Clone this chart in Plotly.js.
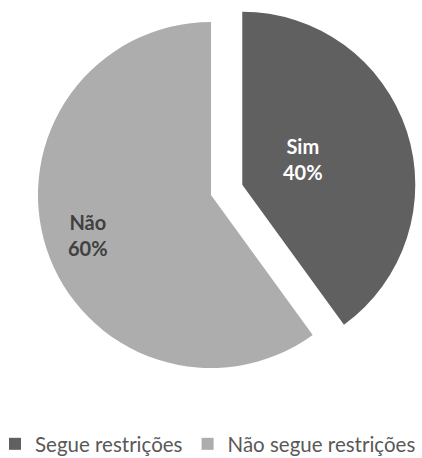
<!DOCTYPE html>
<html>
<head>
<meta charset="utf-8">
<script src="https://cdn.plot.ly/plotly-3.0.1.min.js"></script>
<style>
  html, body { margin: 0; padding: 0; background: #ffffff; overflow: hidden; }
  #chart { position: absolute; left: -5px; top: -20px; width: 440px; height: 500px; }
</style>
</head>
<body>
<div id="chart"></div>
<script>
// ---- data ----
const categories = ["Segue restrições", "Não segue restrições"];
const sliceLabels = ["Sim", "Não"];
const values = [40, 60];

// ---- style ----
const sliceColors = ["#606060", "#adadad"];
const labelColors = ["#ffffff", "#404040"];
const pulls = [0.19, 0];
const labelRadius = [0.38, 0.75];     // fraction of radius where the text sits
const labelAngleShift = [-5, 0];      // degrees, small tweak of label direction
const W = 440, H = 500;
const domX = [0.02295, 0.95886];
const domY = [0.15, 0.99];
const fontFam = "Lato, 'Open Sans', sans-serif";

// pie geometry as Plotly computes it
const maxPull = Math.max(...pulls);
const rx = W * (domX[1] - domX[0]) / 2;
const ry = H * (domY[1] - domY[0]) / 2;
const r = Math.min(rx, ry) / (1 + maxPull);
const cx = W * (domX[0] + domX[1]) / 2;
const cy = H * (1 - (domY[0] + domY[1]) / 2);

const total = values.reduce((a, b) => a + b, 0);
let cum = 0;
const annotations = values.map((v, i) => {
  const mid = (cum + v / 2) / total * 2 * Math.PI; // clockwise from 12 o'clock
  cum += v;
  const pcx = cx + Math.sin(mid) * r * pulls[i];
  const pcy = cy - Math.cos(mid) * r * pulls[i];
  const a = mid + labelAngleShift[i] * Math.PI / 180;
  const px = pcx + Math.sin(a) * r * labelRadius[i];
  const py = pcy - Math.cos(a) * r * labelRadius[i];
  const pct = Math.round(v / total * 100) + "%";
  return {
    x: px / W, y: 1 - py / H, xref: "paper", yref: "paper",
    xanchor: "center", yanchor: "middle", showarrow: false,
    text: "<b>" + sliceLabels[i] + "</b><br><b>" + pct + "</b>",
    font: { family: fontFam, size: 20, color: labelColors[i] },
    align: "center"
  };
});

const trace = {
  type: "pie",
  labels: categories,
  values: values,
  sort: false,
  direction: "clockwise",
  rotation: 0,
  pull: pulls,
  textinfo: "none",
  hoverinfo: "none",
  marker: { colors: sliceColors, line: { width: 0 } },
  domain: { x: domX, y: domY }
};

const layout = {
  width: W, height: H,
  margin: { l: 0, r: 0, t: 0, b: 0 },
  paper_bgcolor: "#ffffff",
  showlegend: true,
  legend: {
    orientation: "h",
    x: 0, xanchor: "left",
    y: 1 - 464 / H, yanchor: "middle",
    font: { family: fontFam, size: 20.5, color: "#595959" },
    traceorder: "normal"
  },
  annotations: annotations
};

Plotly.newPlot("chart", [trace], layout, { staticPlot: true, displayModeBar: false });
</script>
</body>
</html>
